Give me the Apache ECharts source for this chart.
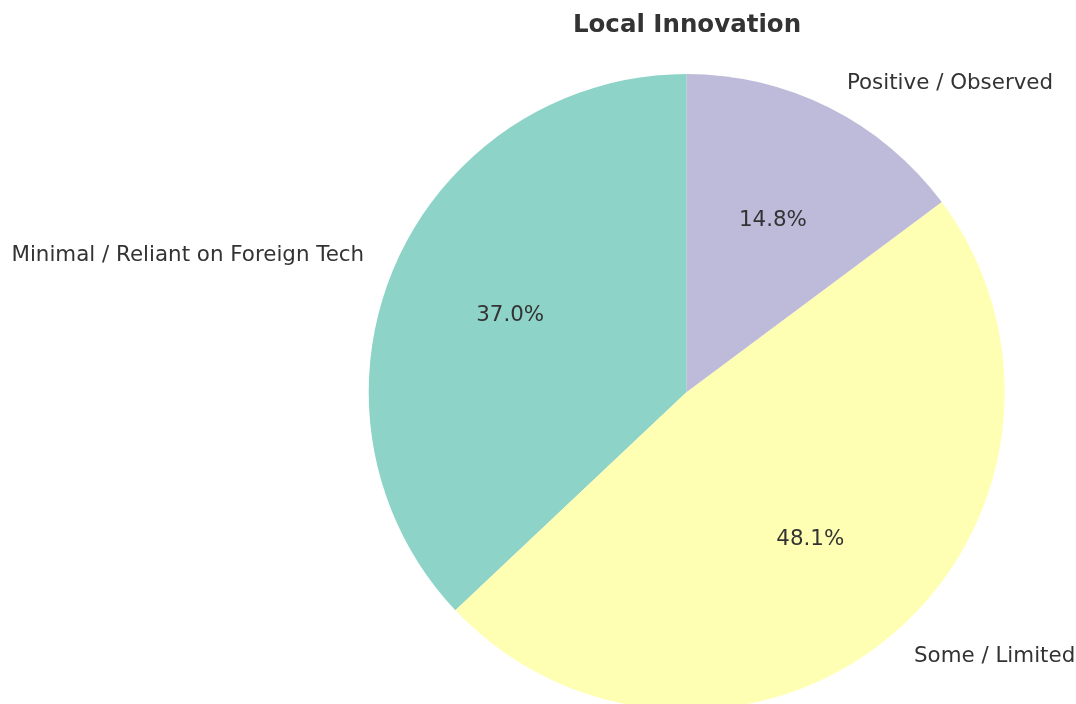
<!DOCTYPE html>
<html>
<head>
<meta charset="utf-8">
<script src="https://cdn.jsdelivr.net/npm/echarts@6/dist/echarts.min.js"></script>
<style>
  html, body { margin: 0; padding: 0; background: #fff; }
  #main { width: 1076px; height: 704px; }
</style>
</head>
<body>
<div id="main"></div>
<script>
// data
var categories = ["Minimal / Reliant on Foreign Tech", "Some / Limited", "Positive / Observed"];
var counts = [10, 13, 4];
var colors = ["#8dd3c7", "#ffffb3", "#bebada"];

var total = counts.reduce(function (a, b) { return a + b; }, 0);
var pieData = categories.map(function (name, i) {
    return { name: name, value: counts[i], itemStyle: { color: colors[i] } };
});

var R = 318; // pie radius in px
var center = [686.7, 392];
var font = "'DejaVu Sans', sans-serif";

var myChart = echarts.init(document.getElementById("main"));
var option = {
    backgroundColor: "#fff",
    animation: false,
    title: {
        text: "Local Innovation",
        left: 682,
        textAlign: "center",
        top: 8,
        textStyle: { fontFamily: font, fontSize: 24.5, fontWeight: "bold", color: "#333" }
    },
    series: [
        {
            // slices + outer category labels
            type: "pie",
            center: center,
            radius: [0, R],
            startAngle: 90,
            clockwise: false,
            avoidLabelOverlap: false,
            silent: true,
            itemStyle: { borderWidth: 0 },
            label: {
                show: true,
                position: "outside",
                formatter: "{b}",
                fontFamily: font,
                fontSize: 21.4,
                color: "#333"
            },
            labelLine: { show: false, length: R * 0.1 - 4, length2: 0 },
            data: pieData
        },
        {
            // invisible ring used only to place percentage labels at ~0.6 R
            type: "pie",
            center: center,
            radius: [0, R * 1.19],
            startAngle: 90,
            clockwise: false,
            silent: true,
            z: 3,
            itemStyle: { color: "rgba(0,0,0,0)", borderWidth: 0 },
            label: {
                show: true,
                position: "inside",
                formatter: function (p) {
                    return (p.value / total * 100).toFixed(1) + "%";
                },
                fontFamily: font,
                fontSize: 21.4,
                color: "#333"
            },
            labelLine: { show: false },
            data: categories.map(function (name, i) {
                return { name: name, value: counts[i] };
            })
        }
    ]
};
myChart.setOption(option);
</script>
</body>
</html>
